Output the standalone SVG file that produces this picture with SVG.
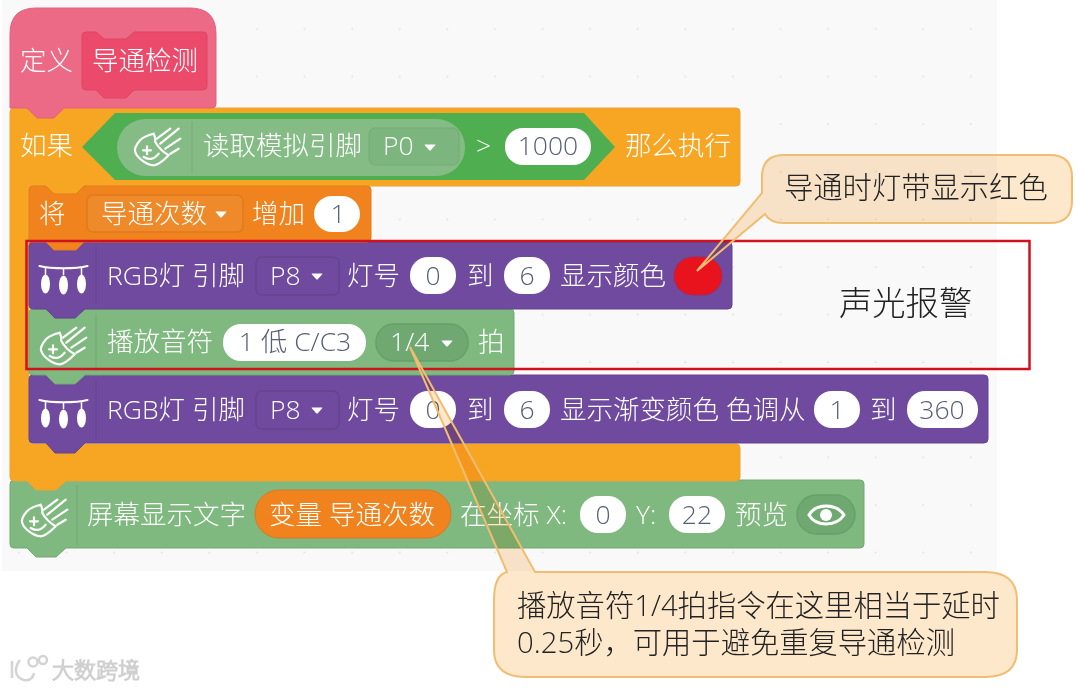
<svg xmlns="http://www.w3.org/2000/svg" xmlns:xlink="http://www.w3.org/1999/xlink" width="1080" height="689" viewBox="0 0 1080 689">
<style>
text{font-family:"Open Sans","Noto Sans CJK SC","Noto Sans",sans-serif;font-weight:300}
.w{fill:#fff;font-size:26.500px}
.g{fill:#575e75;font-size:26.500px;text-anchor:middle}
.k{fill:#222;font-size:29.300px}
.pill{fill:#fff}
.pu{fill:#6f4a9e;stroke:#654490;stroke-width:1}
.gr{fill:#7fb97f;stroke:#73a973;stroke-width:1}
.ddp{fill:#6f4a9e;stroke:#654490;stroke-width:1.5}
.ddg{fill:#6fa971;stroke:#67a069;stroke-width:1.5}
.cofill{fill:#fde8cc;mix-blend-mode:multiply}
.costroke{fill:none;stroke:#f0bd72;stroke-width:2}
.ic{fill:none;stroke:#fff;stroke-width:2.2;stroke-linecap:round;stroke-linejoin:round}
.div{stroke:#000;stroke-opacity:.08;stroke-width:1}
</style>
<defs>
<pattern id="dots" width="47.6" height="47.6" patternUnits="userSpaceOnUse" x="-5" y="5">
<circle cx="24" cy="24" r="1" fill="#e2e2e4"/>
</pattern>
<g id="met" class="ic">
<path d="M-3.300 -13.300 C-9 -12 -14 -10 -17 -6.700 C-21 -2 -23 2 -21.700 5 C-20 11 -10 18 -3.300 18.300 C1 18.300 5 15 11.700 8.300 C6 5 1 0 -1.700 -5 C-1.500 -8 -2 -11 -3.300 -13.300"/>
<path d="M0 -8.300 L13.300 -18.300 M3.300 -3.300 L21.700 -18.300 M8.300 1.700 L23.300 -8.300 M13.300 6.700 L21.700 1.700"/>
<path d="M-14 3.300 H-6 M-10 -0.700 V7.300"/>
<path d="M-13.300 10 C-9 13 -3 13 1.700 6.700"/>
</g>
<g id="lights">
<path d="M-24 -13 C-12 -10 12 -10 24 -13" class="ic"/>
<path d="M-18 -11 V-4 M0 -10 V-4 M18 -11 V-4" fill="none" stroke="#fff" stroke-width="1.500"/>
<ellipse cx="-18" cy="5" rx="4.500" ry="9.500" fill="#fff"/>
<ellipse cx="0" cy="6" rx="4.500" ry="9.500" fill="#fff"/>
<ellipse cx="18" cy="5" rx="4.500" ry="9.500" fill="#fff"/>
</g>
<path id="caret" d="M-5 -2.500 H5 Q6 -2.500 5 -1.500 L1 3 Q0 4 -1 3 L-5 -1.500 Q-6 -2.500 -5 -2.500 Z" fill="#fff"/>
<path id="shape1" d="M697 271 L762 193 V177 Q762 155 784 155 H1050 Q1072 155 1072 177 V201 Q1072 223 1050 223 H784 Q770 223 765 214 Z"/>
<path id="shape2" d="M410 347 L507 572 Q494 575 494 600 V650 Q494 677 526 677 H985 Q1017 677 1017 650 V600 Q1017 572 985 572 H535 Z"/>
</defs>

<rect x="0" y="0" width="1080" height="689" fill="#fff"/>
<rect x="2" y="0" width="995" height="571" fill="#f9f9fa"/>
<rect x="2" y="0" width="995" height="571" fill="url(#dots)"/>

<g id="block-display">
<path class="gr" d="M10 484 Q10 480 14 480 H27 L35 489 H57 L65 480 H860 Q864 480 864 484 V544 Q864 548 860 548 H66 L56 557 H36 L27 548 H14 Q10 548 10 544 Z"/>
<path class="div" d="M77 485 V545"/>
<use xlink:href="#met" href="#met" x="44" y="518"/>
<text class="w" x="87" y="524">屏幕显示文字</text>
<rect x="255" y="490" width="196" height="48" rx="24" fill="#f0831e" stroke="#d9772a"/>
<text class="w" x="269" y="524">变量 导通次数</text>
<text class="w" x="460" y="524">在坐标 X:</text>
<rect class="pill" x="580" y="496" width="46" height="37" rx="18"/>
<text class="g" x="603" y="524">0</text>
<text class="w" x="636" y="524">Y:</text>
<rect class="pill" x="669" y="496" width="56" height="37" rx="18"/>
<text class="g" x="697" y="524">22</text>
<text class="w" x="735" y="524">预览</text>
<rect class="ddg" x="797" y="495" width="58" height="39" rx="19.500"/>
<path d="M809 515 C816 503 836 503 844 515 C836 527 816 527 809 515 Z" fill="none" stroke="#fff" stroke-width="3"/>
<circle cx="826" cy="515" r="6" fill="#fff"/>
</g>

<g id="block-if">
<path d="M10 112 Q10 108 14 108 H736 Q740 108 740 112 V182 Q740 186 736 186 H84 L76 194 H54 L46 186 H33 Q29 186 29 190 V440 Q29 444 33 444 H736 Q740 444 740 448 V477 Q740 481 736 481 H66 L56 490 H36 L27 481 H14 Q10 481 10 477 Z" fill="#f6a623" stroke="#e9a23b"/>
<text class="w" x="20" y="155">如果</text>
<path d="M82 147 L115 113 H584 L615 147 L584 180 H115 Z" fill="#4fae50"/>
<rect x="117" y="119" width="348" height="57" rx="28.500" fill="#85bc86"/>
<path class="div" d="M192 121 V174"/>
<use xlink:href="#met" href="#met" x="157" y="147"/>
<text class="w" x="203" y="155">读取模拟引脚</text>
<rect x="369" y="128" width="90" height="37" rx="6" fill="#7db57f" stroke="#74ab76"/>
<text class="w" x="383" y="155">P0</text>
<use xlink:href="#caret" href="#caret" x="430" y="147"/>
<text class="w" x="476" y="155">&gt;</text>
<rect class="pill" x="505" y="128" width="86" height="37" rx="18"/>
<text class="g" x="548" y="155">1000</text>
<text class="w" x="625" y="155">那么执行</text>
</g>

<g id="block-rgb2">
<path class="pu" d="M29 379 Q29 375 33 375 H46 L54 384 H76 L84 375 H984 Q988 375 988 379 V439 Q988 443 984 443 H85 L75 453 H55 L46 443 H33 Q29 443 29 439 Z"/>
<path class="div" d="M96 380 V440"/>
<use xlink:href="#lights" href="#lights" x="63.500" y="413"/>
<text class="w" x="107" y="419">RGB灯 引脚</text>
<rect class="ddp" x="256" y="391" width="83" height="38" rx="6"/>
<text class="w" x="270" y="419">P8</text>
<use xlink:href="#caret" href="#caret" x="317" y="410"/>
<text class="w" x="347" y="419">灯号</text>
<rect class="pill" x="410" y="391" width="46" height="37" rx="18"/>
<text class="g" x="433" y="419">0</text>
<text class="w" x="467" y="419">到</text>
<rect class="pill" x="504" y="391" width="46" height="37" rx="18"/>
<text class="g" x="527" y="419">6</text>
<text class="w" x="560" y="419">显示渐变颜色 色调从</text>
<rect class="pill" x="814" y="391" width="46" height="37" rx="18"/>
<text class="g" x="837" y="419">1</text>
<text class="w" x="870" y="419">到</text>
<rect class="pill" x="907" y="391" width="71" height="37" rx="18"/>
<text class="g" x="942" y="419">360</text>
</g>

<g id="block-note">
<path class="gr" d="M29 313 Q29 309 33 309 H46 L54 318 H76 L84 309 H510 Q514 309 514 313 V371 Q514 375 510 375 H85 L75 384 H55 L46 375 H33 Q29 375 29 371 Z"/>
<path class="div" d="M96 314 V372"/>
<use xlink:href="#met" href="#met" x="63" y="346"/>
<text class="w" x="107" y="351">播放音符</text>
<rect class="pill" x="223" y="324" width="143" height="37" rx="18"/>
<text class="g" x="295" y="351">1 低 C/C3</text>
<rect class="ddg" x="376" y="324" width="92" height="37" rx="18"/>
<text class="w" x="390" y="351">1/4</text>
<use xlink:href="#caret" href="#caret" x="447" y="343"/>
<text class="w" x="478" y="351">拍</text>
</g>

<g id="block-rgb1">
<path class="pu" d="M29 246 Q29 242 33 242 H46 L54 250 H76 L84 242 H728 Q732 242 732 246 V305 Q732 309 728 309 H85 L75 318 H55 L46 309 H33 Q29 309 29 305 Z"/>
<path class="div" d="M96 247 V305"/>
<use xlink:href="#lights" href="#lights" x="63.500" y="279"/>
<text class="w" x="107" y="285">RGB灯 引脚</text>
<rect class="ddp" x="256" y="257" width="83" height="38" rx="6"/>
<text class="w" x="270" y="285">P8</text>
<use xlink:href="#caret" href="#caret" x="317" y="276"/>
<text class="w" x="347" y="285">灯号</text>
<rect class="pill" x="410" y="257" width="46" height="37" rx="18"/>
<text class="g" x="433" y="285">0</text>
<text class="w" x="467" y="285">到</text>
<rect class="pill" x="504" y="257" width="46" height="37" rx="18"/>
<text class="g" x="527" y="285">6</text>
<text class="w" x="560" y="285">显示颜色</text>
<rect x="674" y="257" width="48" height="38" rx="19" fill="#e8131c" stroke="#a52a5a"/>
</g>

<g id="block-add">
<path d="M29 190 Q29 186 33 186 H46 L54 194 H76 L84 186 H367 Q371 186 371 190 V238 Q371 242 367 242 H84 L76 250 H54 L46 242 H29 Z" fill="#f0831e" stroke="#e57c1a"/>
<text class="w" x="39" y="223">将</text>
<rect x="87" y="195" width="156" height="37" rx="6" fill="#ef8a2a" stroke="#e07a1c" stroke-width="1.500"/>
<text class="w" x="101" y="223">导通次数</text>
<use xlink:href="#caret" href="#caret" x="221" y="214"/>
<text class="w" x="252" y="223">增加</text>
<rect class="pill" x="314" y="196" width="46" height="36" rx="18"/>
<text class="g" x="338" y="223">1</text>
</g>

<g id="block-define">
<path d="M10 34 Q10 8 36 8 H190 Q216 8 216 34 V104 Q216 108 212 108 H64 L54 118 H37 L27 108 H10 Z" fill="#ec6a85" stroke="#e5607c"/>
<text class="w" x="20" y="70">定义</text>
<path d="M82 36 Q82 32 86 32 H96 L104 39 H126 L134 32 H203 Q207 32 207 36 V86 Q207 90 203 90 H134 L126 98 H104 L96 90 H86 Q82 90 82 86 Z" fill="#ec4a6b" stroke="#dd4565"/>
<text class="w" x="92" y="70">导通检测</text>
</g>

<g id="alarm-frame">
<rect x="26.500" y="241" width="1003" height="128" fill="none" stroke="#d0121f" stroke-width="2.500"/>
<text x="839" y="315" fill="#222" font-size="33.300">声光报警</text>
</g>

<g id="callout-red">
<use xlink:href="#shape1" href="#shape1" class="cofill"/>
<use xlink:href="#shape1" href="#shape1" class="costroke"/>
<text class="k" x="784" y="198">导通时灯带显示红色</text>
</g>

<g id="callout-note">
<use xlink:href="#shape2" href="#shape2" class="cofill"/>
<use xlink:href="#shape2" href="#shape2" class="costroke"/>
<text class="k" x="517" y="616">播放音符1/4拍指令在这里相当于延时</text>
<text class="k" x="517" y="653">0.25秒，可用于避免重复导通检测</text>
</g>

<g id="watermark" fill="none" stroke="#d4d4d4" stroke-width="2.500">
<path d="M12 661 V678 M20 660 C14 668 14 677 24 680 C30 681 33 678 34 673"/>
<circle cx="33" cy="662" r="4.500"/><circle cx="43" cy="660" r="4"/>
<text x="52" y="678" fill="#f2f2f2" stroke="#cfcfcf" stroke-width="1.200" font-size="22">大数跨境</text>
</g>
</svg>
